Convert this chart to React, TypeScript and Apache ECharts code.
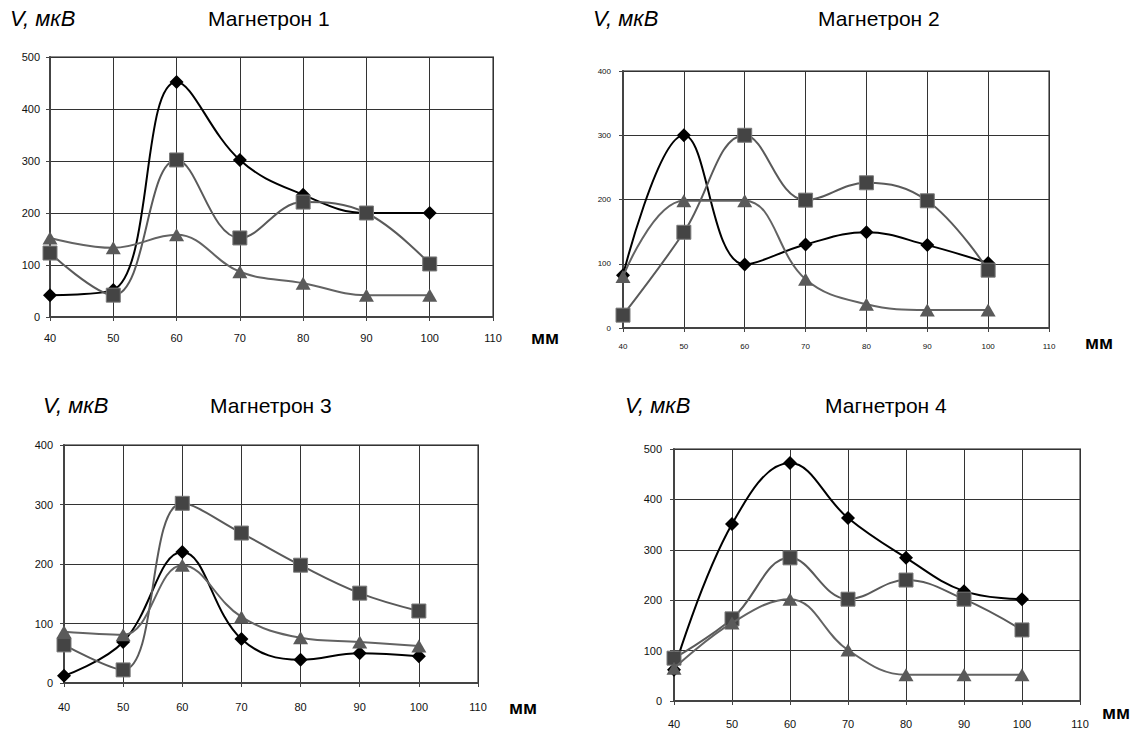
import React, { useEffect, useRef } from "react";
import * as echarts from "echarts";

const xValues = [40, 50, 60, 70, 80, 90, 100];

const m1Diamond = [42, 52, 452, 302, 235, 200, 200];
const m1Square = [123, 42, 302, 152, 221, 200, 102];
const m1Triangle = [152, 133, 158, 87, 65, 42, 42];

const m2Diamond = [82, 300, 99, 130, 149, 129, 101];
const m2Square = [20, 149, 300, 199, 226, 198, 90];
const m2Triangle = [80, 198, 198, 76, 37, 28, 28];

const m3Diamond = [12, 69, 220, 74, 39, 50, 45];
const m3Square = [64, 22, 302, 252, 198, 151, 121];
const m3Triangle = [86, 81, 198, 111, 76, 69, 62];

const m4Diamond = [62, 351, 472, 363, 284, 218, 202];
const m4Square = [85, 163, 284, 202, 240, 202, 141];
const m4Triangle = [65, 155, 202, 101, 52, 52, 52];

const chartTitles = ["Магнетрон 1", "Магнетрон 2", "Магнетрон 3", "Магнетрон 4"];
const yAxisName = "V, мкВ";
const xAxisName = "мм";
const yMaxes = [500, 400, 400, 500];
const xMin = 40;
const xMax = 110;

const seriesSets = [
  [m1Diamond, m1Square, m1Triangle],
  [m2Diamond, m2Square, m2Triangle],
  [m3Diamond, m3Square, m3Triangle],
  [m4Diamond, m4Square, m4Triangle],
];

// layout (pixels)
const grids = [
  { left: 50, top: 57, width: 443, height: 260 },
  { left: 623, top: 71, width: 426, height: 257 },
  { left: 64, top: 445, width: 414, height: 238 },
  { left: 674, top: 449, width: 406, height: 252 },
];
const labelFont = [11, 8, 11, 11];
const xLabelMargin = [15, 14, 18, 17];
const yLabelMargin = [10, 12, 11, 12];
const vTitlePos = [
  [10, 18],
  [593, 18],
  [43, 405],
  [625, 405],
];
const nameTitlePos = [
  [208, 18],
  [818, 18],
  [210, 405],
  [825, 405],
];
const mmPos = [
  [531, 337],
  [1085, 342],
  [509, 707],
  [1102, 712],
];

const FONT = '"Liberation Sans", Arial, sans-serif';

export default function App() {
  const ref = useRef<HTMLDivElement>(null);

  useEffect(() => {
    if (!ref.current) return;
    const chart = echarts.init(ref.current, undefined, { renderer: "svg" });

    const gridOpts: any[] = [];
    const xAxes: any[] = [];
    const yAxes: any[] = [];
    const series: any[] = [];
    const graphics: any[] = [];

    grids.forEach((g, i) => {
      gridOpts.push({
        left: g.left,
        top: g.top,
        width: g.width,
        height: g.height,
        show: true,
        borderColor: "#8c8c8c",
        borderWidth: 2,
        backgroundColor: "transparent",
      });
      xAxes.push({
        type: "value",
        gridIndex: i,
        min: xMin,
        max: xMax,
        interval: 10,
        axisLine: { show: true, onZero: false, lineStyle: { color: "#444", width: 2 } },
        axisTick: { show: true, length: 4, lineStyle: { color: "#444", width: 1 } },
        axisLabel: {
          fontSize: labelFont[i],
          color: "#111",
          fontFamily: FONT,
          margin: xLabelMargin[i],
        },
        splitLine: { show: true, lineStyle: { color: "#333", width: 1 } },
      });
      yAxes.push({
        type: "value",
        gridIndex: i,
        min: 0,
        max: yMaxes[i],
        interval: 100,
        axisLine: { show: true, onZero: false, lineStyle: { color: "#444", width: 2 } },
        axisTick: { show: true, length: 4, lineStyle: { color: "#444", width: 1 } },
        axisLabel: {
          fontSize: labelFont[i],
          color: "#111",
          fontFamily: FONT,
          margin: yLabelMargin[i],
        },
        splitLine: { show: true, lineStyle: { color: "#333", width: 1 } },
      });

      const [dia, sq, tri] = seriesSets[i];
      const toData = (arr: number[]) => xValues.map((x, j) => [x, arr[j]]);
      series.push({
        type: "line",
        xAxisIndex: i,
        yAxisIndex: i,
        data: toData(dia),
        smooth: 0.4,
        symbol: "diamond",
        symbolSize: [14, 14],
        lineStyle: { color: "#000", width: 2 },
        itemStyle: { color: "#000" },
        z: 3,
      });
      series.push({
        type: "line",
        xAxisIndex: i,
        yAxisIndex: i,
        data: toData(sq),
        smooth: 0.4,
        symbol: "rect",
        symbolSize: 14,
        lineStyle: { color: "#5a5a5a", width: 2 },
        itemStyle: { color: "#444", borderColor: "#7a7a7a", borderWidth: 1 },
        z: 4,
      });
      series.push({
        type: "line",
        xAxisIndex: i,
        yAxisIndex: i,
        data: toData(tri),
        smooth: 0.4,
        symbol: "triangle",
        symbolSize: [15, 13],
        lineStyle: { color: "#636363", width: 2 },
        itemStyle: { color: "#5a5a5a" },
        z: 5,
      });

      graphics.push({
        type: "text",
        x: vTitlePos[i][0],
        y: vTitlePos[i][1],
        style: {
          text: yAxisName,
          font: `italic 22px ${FONT}`,
          fill: "#000",
          verticalAlign: "middle",
        },
      });
      graphics.push({
        type: "text",
        x: nameTitlePos[i][0],
        y: nameTitlePos[i][1],
        style: {
          text: chartTitles[i],
          font: `21px ${FONT}`,
          fill: "#000",
          verticalAlign: "middle",
        },
      });
      graphics.push({
        type: "text",
        x: mmPos[i][0],
        y: mmPos[i][1],
        style: {
          text: xAxisName,
          font: `bold 19px ${FONT}`,
          fill: "#000",
          verticalAlign: "middle",
        },
      });
    });

    chart.setOption({
      animation: false,
      backgroundColor: "#fff",
      grid: gridOpts,
      xAxis: xAxes,
      yAxis: yAxes,
      series,
      graphic: graphics,
    });

    return () => {
      chart.dispose();
    };
  }, []);

  return (
    <div
      ref={ref}
      style={{ position: "fixed", left: 0, top: 0, width: 1146, height: 729, background: "#fff" }}
    />
  );
}
